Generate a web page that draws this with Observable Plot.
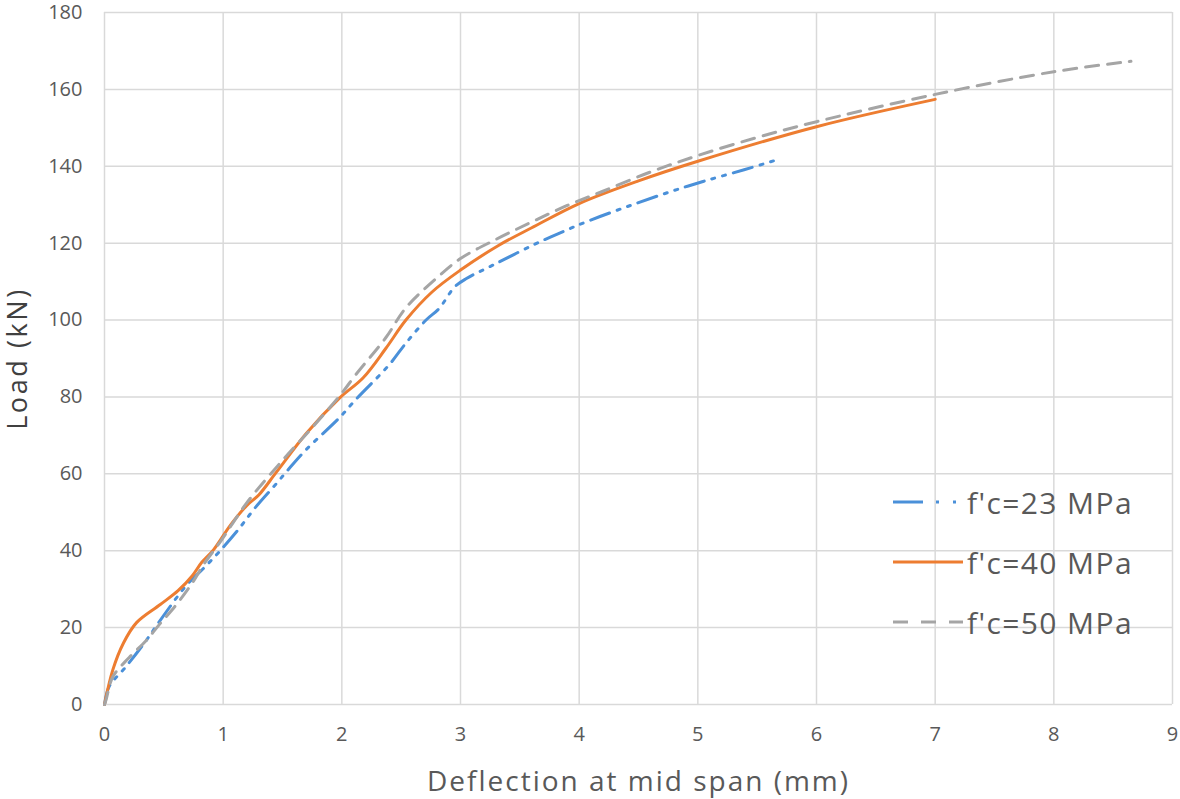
<!DOCTYPE html>
<html>
<head>
<meta charset="utf-8">
<script src="https://cdn.jsdelivr.net/npm/d3@7"></script>
<script src="https://cdn.jsdelivr.net/npm/@observablehq/plot@0.6"></script>
<style>
  body { margin: 0; background: #fff; font-family: "Open Sans", sans-serif; }
  #wrap { position: relative; width: 1180px; height: 799px; }
  #legend { position: absolute; left: 893px; top: 472px; }
  .row { display: flex; align-items: center; height: 60px; }
  .row span { font-size: 30px; letter-spacing: 1.4px; color: #595959; margin-left: 4px; white-space: nowrap; }
  g[aria-label="x-axis label"] text { font-size: 28px; letter-spacing: 2px; }
  g[aria-label="y-axis label"] text { font-size: 27px; letter-spacing: 2.6px; fill: #404040; }
</style>
</head>
<body>
<div id="wrap"><div id="legend"></div></div>
<script>
// ---- data ----
const seriesNames = ["f'c=23 MPa", "f'c=40 MPa", "f'c=50 MPa"];
const seriesColors = ["#4A90D9", "#ED7D31", "#A5A5A5"];
const seriesDash = ["20 8 3 8 3 8", null, "13 9"];

const defl23 = [0, 0.04, 0.18, 0.35, 0.465, 0.69, 0.84, 0.96, 1.13, 1.27, 1.455, 1.54, 1.69, 1.98, 2.12, 2.4, 2.54, 2.71, 2.82, 2.95, 3.05, 3.3, 3.61, 3.84, 4.08, 4.45, 4.78, 5.05, 5.39, 5.67];
const load23 = [0, 4.7, 9.8, 16.6, 21.7, 31, 35.6, 39.5, 45.6, 51.2, 57.7, 60.8, 66, 74.6, 79.4, 88.4, 94, 100, 103, 108.6, 110.8, 114.7, 119.5, 122.7, 125.8, 130, 133.5, 136.1, 139.1, 141.7];

const defl40 = [0, 0.07, 0.16, 0.27, 0.47, 0.62, 0.74, 0.82, 0.92, 1.06, 1.2, 1.3, 1.45, 1.7, 1.98, 2.18, 2.37, 2.54, 2.76, 3.0, 3.32, 3.6, 4.0, 4.5, 5, 6, 7];
const load40 = [0, 9, 16, 21.3, 26, 29.6, 33.5, 37, 40.3, 46.6, 51.8, 54.5, 60.5, 70.5, 79.7, 85, 92.6, 100, 107.3, 113, 119.4, 124, 130.3, 136.2, 141.3, 150.3, 157.4];

const defl50 = [0, 0.014, 0.07, 0.21, 0.35, 0.465, 0.606, 0.746, 0.83, 0.98, 1.2, 1.5, 1.75, 2.0, 2.12, 2.37, 2.54, 2.82, 3.0, 3.3, 3.6, 3.9, 4.2, 4.6, 5, 5.5, 6, 7, 8, 8.65];
const load50 = [0, 1.3, 7.2, 12.3, 16.6, 20.9, 26, 31.9, 36.2, 42.5, 52.5, 63.5, 72, 81, 85.9, 95.4, 103.2, 111.5, 116, 121, 125.5, 129.8, 133.5, 138.5, 142.8, 147.5, 151.6, 158.7, 164.6, 167.3];

const xTicks = [0, 1, 2, 3, 4, 5, 6, 7, 8, 9];
const yTicks = [0, 20, 40, 60, 80, 100, 120, 140, 160, 180];

// ---- build ----
const series = [[defl23, load23], [defl40, load40], [defl50, load50]].map(([xs, ys], i) =>
  xs.map((x, j) => ({x, y: ys[j], s: seriesNames[i]})));

const lineMarks = series.map((d, i) => Plot.line(d, {
  x: "x", y: "y", stroke: seriesColors[i], strokeWidth: 3,
  strokeDasharray: seriesDash[i] || undefined, curve: "catmull-rom"
}));

const chart = Plot.plot({
  width: 1180, height: 799,
  marginLeft: 104, marginRight: 8, marginTop: 12, marginBottom: 95,
  style: {fontFamily: "'Open Sans', sans-serif", fontSize: "20px", color: "#595959", background: "transparent", overflow: "visible"},
  x: {domain: [0, 9]},
  y: {domain: [0, 180]},
  marks: [
    Plot.gridX(xTicks, {stroke: "#d9d9d9", strokeOpacity: 1, strokeWidth: 1.5}),
    Plot.gridY(yTicks, {stroke: "#d9d9d9", strokeOpacity: 1, strokeWidth: 1.5}),
    Plot.axisX(xTicks, {tickSize: 0, tickPadding: 22, tickFormat: d => String(d), label: "Deflection at mid span (mm)", labelAnchor: "center", labelArrow: "none", labelOffset: 86}),
    Plot.axisY(yTicks, {tickSize: 0, tickPadding: 22, tickFormat: d => String(d), label: "Load (kN)", labelAnchor: "center", labelArrow: "none", labelOffset: 97}),
    ...lineMarks
  ]
});
document.getElementById("wrap").prepend(chart);

// legend
const legend = d3.select("#legend");
seriesNames.forEach((name, i) => {
  const row = legend.append("div").attr("class", "row");
  const svg = row.append("svg").attr("width", 70).attr("height", 10);
  svg.append("line").attr("x1", 0).attr("x2", 70).attr("y1", 5).attr("y2", 5)
    .attr("stroke", seriesColors[i]).attr("stroke-width", 3)
    .attr("stroke-dasharray", i === 0 ? "30 13 3 14 3 100" : (i === 2 ? "15 13" : null));
  row.append("span").text(name);
});
</script>
</body>
</html>
